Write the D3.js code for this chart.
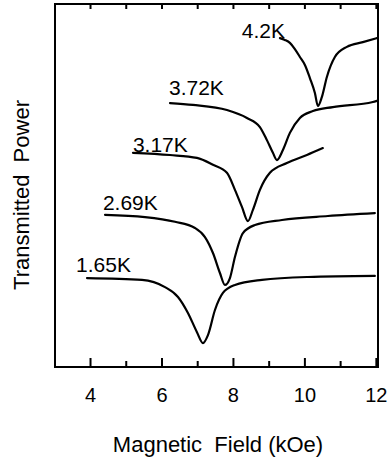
<!DOCTYPE html>
<html>
<head>
<meta charset="utf-8">
<script src="https://cdn.jsdelivr.net/npm/d3@7"></script>
<style>
  body { margin: 0; background: #fff; }
  svg { display: block; }
  text { font-family: "Liberation Sans", Arial, Helvetica, sans-serif; fill: #000; }
</style>
</head>
<body>
<div id="chart"></div>
<script>
// field values (kOe) and transmitted power (arb. units, offset per trace)
const field42 = [9.315, 9.455, 9.594, 9.734, 9.874, 10.014, 10.154, 10.294, 10.378, 10.490, 10.629, 10.853, 11.189, 11.636, 12.028];
const power42 = [90.6, 90.1, 89.3, 87.6, 85.4, 83.2, 79.6, 75.5, 71.9, 74.4, 79.9, 85.4, 88.2, 89.5, 90.6];

const field372 = [6.238, 6.881, 7.832, 8.392, 8.755, 8.951, 9.119, 9.231, 9.399, 9.594, 9.874, 10.238, 10.797, 11.916, 12.028];
const power372 = [72.7, 72.2, 70.8, 68.6, 66.1, 62.5, 59.0, 57.0, 59.8, 64.5, 68.6, 70.5, 71.6, 73.0, 73.3];

const field317 = [5.203, 6.238, 6.993, 7.441, 7.832, 8.056, 8.252, 8.420, 8.559, 8.755, 9.035, 9.510, 10.070, 10.517];
const power317 = [59.0, 58.4, 57.6, 55.7, 53.5, 48.8, 44.1, 40.2, 43.3, 48.8, 53.5, 56.2, 58.4, 60.3];

const field269 = [4.420, 5.538, 6.378, 6.937, 7.217, 7.441, 7.636, 7.776, 7.916, 8.056, 8.280, 8.615, 9.371, 10.657, 11.972];
const power269 = [41.9, 41.3, 40.0, 38.3, 35.8, 31.4, 25.9, 22.6, 24.5, 30.3, 36.9, 39.1, 40.5, 41.6, 42.4];

const field165 = [3.916, 5.455, 6.098, 6.462, 6.741, 6.993, 7.161, 7.301, 7.497, 7.720, 8.056, 8.811, 10.098, 11.972];
const power165 = [24.5, 24.0, 22.0, 19.3, 14.9, 9.6, 6.6, 8.8, 15.7, 20.4, 22.6, 24.0, 24.8, 25.1];

const tempLabels = ["4.2K", "3.72K", "3.17K", "2.69K", "1.65K"];
const labelField = [8.25, 6.21, 5.20, 4.36, 3.61];
const labelPower = [90.6, 74.9, 59.2, 43.3, 26.2];

const majorTicks = [4, 6, 8, 10, 12];
const minorTicks = [5, 7, 9, 11];

const width = 388, height = 462;
const margin = { top: 4, right: 10, bottom: 95, left: 55 };

const svg = d3.select("#chart")
  .append("svg")
  .attr("width", width)
  .attr("height", height);

const x = d3.scaleLinear()
  .domain([3.02, 12.06])
  .range([margin.left, width - margin.right]);

const y = d3.scaleLinear()
  .domain([0, 100])
  .range([height - margin.bottom, margin.top]);

const line = d3.line()
  .x(d => x(d[0]))
  .y(d => y(d[1]))
  .curve(d3.curveMonotoneX);

const traces = [
  d3.zip(field42, power42),
  d3.zip(field372, power372),
  d3.zip(field317, power317),
  d3.zip(field269, power269),
  d3.zip(field165, power165)
];

svg.append("g")
  .selectAll("path")
  .data(traces)
  .join("path")
  .attr("d", line)
  .attr("fill", "none")
  .attr("stroke", "#000")
  .attr("stroke-width", 2.2)
  .attr("stroke-linejoin", "round")
  .attr("stroke-linecap", "round");

// labels for each temperature
svg.append("g")
  .selectAll("text")
  .data(tempLabels)
  .join("text")
  .attr("x", (d, i) => x(labelField[i]))
  .attr("y", (d, i) => y(labelPower[i]))
  .attr("font-size", 21)
  .text(d => d);

// frame
svg.append("rect")
  .attr("x", x.range()[0])
  .attr("y", y.range()[1])
  .attr("width", x.range()[1] - x.range()[0])
  .attr("height", y.range()[0] - y.range()[1])
  .attr("fill", "none")
  .attr("stroke", "#000")
  .attr("stroke-width", 2);

// bottom axis: major ticks long, minor short, all inward
const bottomAxis = svg.append("g")
  .attr("transform", `translate(0,${y.range()[0]})`);

bottomAxis.call(d3.axisBottom(x).tickValues(majorTicks).tickSize(-9).tickPadding(21).tickFormat(d3.format("d")));
bottomAxis.select(".domain").remove();
bottomAxis.selectAll(".tick line").attr("stroke-width", 2);
bottomAxis.selectAll(".tick text")
  .attr("font-size", 20)
  .attr("font-family", "'Liberation Sans', Arial, sans-serif");

const bottomMinor = svg.append("g")
  .attr("transform", `translate(0,${y.range()[0]})`)
  .call(d3.axisBottom(x).tickValues(minorTicks).tickSize(-6).tickFormat(""));
bottomMinor.select(".domain").remove();
bottomMinor.selectAll(".tick line").attr("stroke-width", 2);

// top axis ticks
const topAxis = svg.append("g")
  .attr("transform", `translate(0,${y.range()[1]})`)
  .call(d3.axisTop(x).tickValues(d3.merge([majorTicks, minorTicks])).tickSize(-5).tickFormat(""));
topAxis.select(".domain").remove();
topAxis.selectAll(".tick line").attr("stroke-width", 2);

// axis titles
svg.append("text")
  .attr("x", 218)
  .attr("y", 452)
  .attr("text-anchor", "middle")
  .attr("font-size", 22)
  .style("white-space", "pre")
  .text("Magnetic  Field (kOe)");

svg.append("text")
  .attr("transform", `translate(29,195) rotate(-90)`)
  .attr("text-anchor", "middle")
  .attr("font-size", 22)
  .style("white-space", "pre")
  .text("Transmitted  Power");
</script>
</body>
</html>
